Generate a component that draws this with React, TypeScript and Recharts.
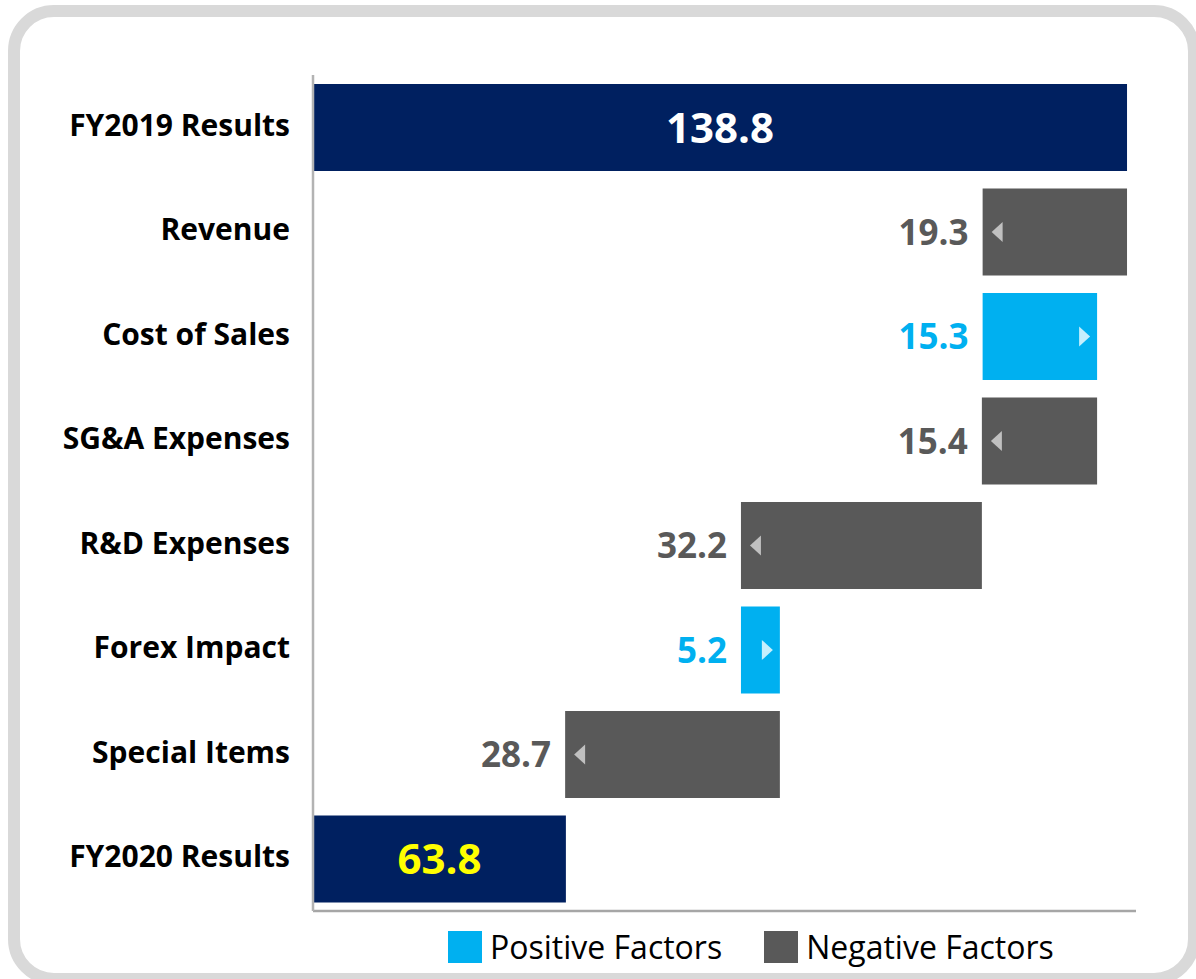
import { BarChart, Bar, XAxis, YAxis, Cell, Legend } from 'recharts'

const categories = [
  'FY2019 Results',
  'Revenue',
  'Cost of Sales',
  'SG&A Expenses',
  'R&D Expenses',
  'Forex Impact',
  'Special Items',
  'FY2020 Results',
]
const amounts = [138.8, 19.3, 15.3, 15.4, 32.2, 5.2, 28.7, 63.8]
const kinds = ['total', 'negative', 'positive', 'negative', 'negative', 'positive', 'negative', 'total']
const legendLabels = ['Positive Factors', 'Negative Factors']

const AXIS_MIN = 30
const AXIS_MAX = 140

const NAVY = '#002060'
const GRAY = '#595959'
const CYAN = '#00b0f0'
const FONT = '"Open Sans", "Noto Sans", sans-serif'

// waterfall: each row is a [low, high] range on the value axis
let running = 0
const data = categories.map((name, i) => {
  const v = amounts[i]
  const kind = kinds[i]
  let range: [number, number]
  if (kind === 'total') {
    running = v
    range = [AXIS_MIN, v]
  } else if (kind === 'positive') {
    range = [running, running + v]
    running += v
  } else {
    range = [running - v, running]
    running -= v
  }
  return { name, amount: v, kind, range }
})

const barFill = (kind: string) => (kind === 'total' ? NAVY : kind === 'positive' ? CYAN : GRAY)

const WaterfallBar = (props: any) => {
  const { x, y, width, height, payload, index } = props
  const cy = y + height / 2
  const kind = payload.kind
  const fill = barFill(kind)
  if (kind === 'total') {
    return (
      <g>
        <rect x={x} y={y} width={width} height={height} fill={fill} />
        <text
          x={x + width / 2}
          y={cy}
          dy="0.36em"
          textAnchor="middle"
          fontFamily={FONT}
          fontWeight={700}
          fontSize={42}
          fill={index === 0 ? '#ffffff' : '#ffff00'}
        >
          {payload.amount.toFixed(1)}
        </text>
      </g>
    )
  }
  const pos = kind === 'positive'
  const tri = pos
    ? `${x + width - 7},${cy} ${x + width - 18},${cy - 10} ${x + width - 18},${cy + 10}`
    : `${x + 9},${cy} ${x + 20},${cy - 10} ${x + 20},${cy + 10}`
  return (
    <g>
      <rect x={x} y={y} width={width} height={height} fill={fill} />
      <polygon points={tri} fill={pos ? '#c6effd' : '#c0c0c0'} />
      <text
        x={x - 14}
        y={cy}
        dy="0.36em"
        textAnchor="end"
        fontFamily={FONT}
        fontWeight={700}
        fontSize={35}
        fill={pos ? CYAN : GRAY}
      >
        {payload.amount.toFixed(1)}
      </text>
    </g>
  )
}

const CategoryTick = (props: any) => {
  const { y, payload } = props
  return (
    <text x={290} y={y} dy="0.28em" textAnchor="end" fontFamily={FONT} fontWeight={700} fontSize={30} fill="#000">
      {payload.value}
    </text>
  )
}

const LegendContent = () => (
  <div style={{ display: 'flex', alignItems: 'center', fontFamily: FONT, fontSize: 32, color: '#000' }}>
    {legendLabels.map((label, i) => (
      <div key={label} style={{ display: 'flex', alignItems: 'center', marginRight: i === 0 ? 42 : 0 }}>
        <span style={{ display: 'inline-block', width: 34, height: 32, background: i === 0 ? CYAN : GRAY, marginRight: 8 }} />
        <span>{label}</span>
      </div>
    ))}
  </div>
)

export default function App() {
  return (
    <div style={{ position: 'absolute', left: 0, top: 0, width: 1196, height: 979, overflow: 'hidden', background: '#fff' }}>
      <div
        style={{
          position: 'absolute',
          left: 8,
          top: 5,
          width: 1192,
          height: 980,
          boxSizing: 'border-box',
          border: '12px solid #d9d9d9',
          borderRadius: 46,
        }}
      />
      <div style={{ position: 'absolute', left: 0, top: 0 }}>
        <BarChart
          width={1196}
          height={979}
          data={data}
          layout="vertical"
          barSize={87}
          margin={{ top: 75, right: 60, bottom: 67, left: 0 }}
        >
          <XAxis
            type="number"
            domain={[AXIS_MIN, AXIS_MAX]}
            allowDataOverflow
            tick={false}
            tickLine={false}
            height={1}
            axisLine={{ stroke: '#a6a6a6', strokeWidth: 2.5 }}
          />
          <YAxis
            type="category"
            dataKey="name"
            width={313}
            tickLine={false}
            tick={<CategoryTick />}
            axisLine={{ stroke: '#b3b3b3', strokeWidth: 2.5 }}
          />
          <Legend
            layout="horizontal"
            verticalAlign="middle"
            align="center"
            wrapperStyle={{ left: 448, top: 925, width: 720 }}
            content={<LegendContent />}
          />
          <Bar dataKey="range" isAnimationActive={false} shape={<WaterfallBar />}>
            {data.map((d, i) => (
              <Cell key={`cell-${i}`} fill={barFill(d.kind)} />
            ))}
          </Bar>
        </BarChart>
      </div>
    </div>
  )
}
